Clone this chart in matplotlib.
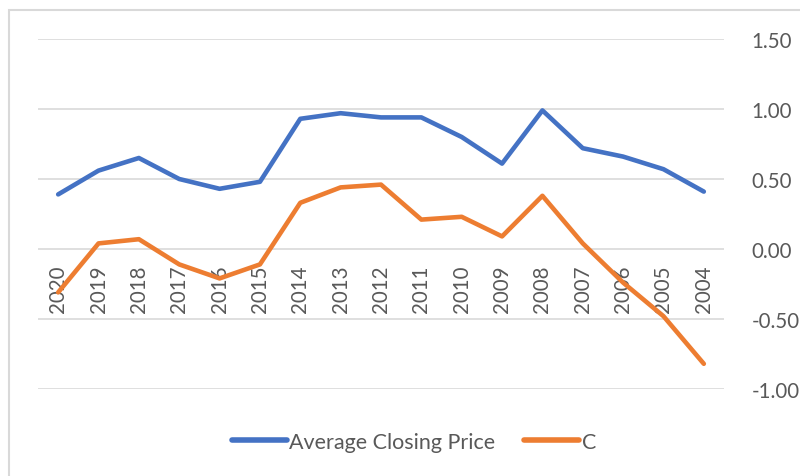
import matplotlib
matplotlib.use("Agg")
from matplotlib import pyplot as plt
from matplotlib.lines import Line2D

years = ["2020", "2019", "2018", "2017", "2016", "2015", "2014", "2013", "2012",
         "2011", "2010", "2009", "2008", "2007", "2006", "2005", "2004"]
avg_close = [0.39, 0.56, 0.65, 0.50, 0.43, 0.48, 0.93, 0.97, 0.94,
             0.94, 0.80, 0.61, 0.99, 0.72, 0.66, 0.57, 0.41]
series_c = [-0.31, 0.04, 0.07, -0.11, -0.21, -0.11, 0.33, 0.44, 0.46,
            0.21, 0.23, 0.09, 0.38, 0.04, -0.24, -0.48, -0.82]

blue = "#4472C4"
orange = "#ED7D31"
grey_text = "#595959"
grid_col = "#D9D9D9"

plt.rcParams['font.family'] = ['Lato', 'DejaVu Sans']

fig = plt.figure(figsize=(8, 4.77), dpi=100)
W, H = 800, 477

# chart frame (light grey border)
fig.add_artist(plt.Rectangle((9 / W, -0.1), 1.2, 1 - 11 / H + 0.1,
                             transform=fig.transFigure, fill=False,
                             edgecolor="#D9D9D9", linewidth=1.5))

ax = fig.add_axes([38 / W, 1 - 390 / H, (724 - 38) / W, (390 - 40) / H])

x = list(range(len(years)))
ax.plot(x, avg_close, color=blue, linewidth=3.3, solid_capstyle='round',
        solid_joinstyle='round', zorder=3)
ax.plot(x, series_c, color=orange, linewidth=3.3, solid_capstyle='round',
        solid_joinstyle='round', zorder=3)

ax.set_xlim(-0.5, len(years) - 0.5)
ax.set_ylim(-1.0, 1.5)
yticks = [-1.0, -0.5, 0.0, 0.5, 1.0, 1.5]
ax.set_yticks(yticks)
ax.set_yticklabels([f"{v:.2f}" for v in yticks])
ax.yaxis.tick_right()
ax.tick_params(axis='y', length=0, pad=20, labelsize=14.8, labelcolor=grey_text)
ax.grid(axis='y', color=grid_col, linewidth=1.2, zorder=0)
for s in ax.spines.values():
    s.set_visible(False)

# category labels sit just under the zero line
ax.spines['bottom'].set_position(('data', 0))
ax.set_xticks(x)
ax.set_xticklabels(years, rotation=90, va='top', ha='center')
ax.tick_params(axis='x', length=0, pad=11, labelsize=14.8, labelcolor=grey_text)

handles = [Line2D([], [], color=blue, linewidth=4, solid_capstyle='round'),
           Line2D([], [], color=orange, linewidth=4, solid_capstyle='round')]
fig.legend(handles, ["Average Closing Price", "C"], loc='center',
           bbox_to_anchor=(414 / W, 1 - 443 / H), ncol=2, frameon=False,
           fontsize=15.5, labelcolor=grey_text, handlelength=2.55,
           handletextpad=0.12, columnspacing=1.35)

fig.savefig("out.png", dpi=100)
